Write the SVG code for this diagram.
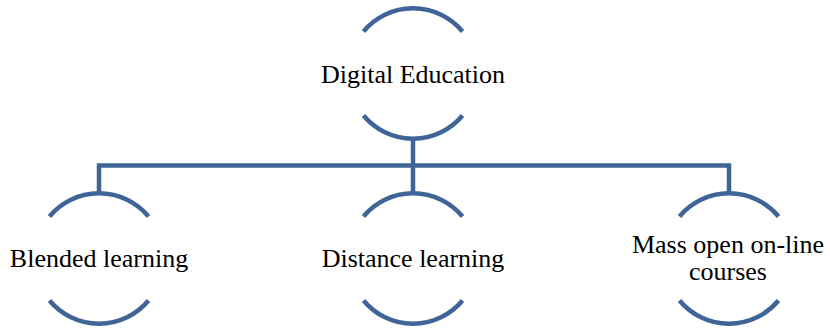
<svg xmlns="http://www.w3.org/2000/svg" width="830" height="328" viewBox="0 0 830 328">
<style>
.arc{fill:none;stroke:#3F6497;stroke-width:4.5}
.conn{fill:none;stroke:#3F6497;stroke-width:4.5;stroke-linejoin:miter}
.lbl{font-family:"Liberation Serif","Times New Roman",serif;font-size:26px;fill:#000;text-anchor:middle}
</style>
<rect width="830" height="328" fill="#fff"/>
<g id="connectors">
<path class="conn" d="M99 194 V165.5 H729 V194"/>
<path class="conn" d="M413 137.5 V194"/>
</g>
<g id="node-digital-education">
<path class="arc" d="M363.5 31.5 A64.5 64.5 0 0 1 462.5 31.5"/>
<path class="arc" d="M363.5 115.5 A64.5 64.5 0 0 0 462.5 115.5"/>
<text class="lbl" x="413" y="83">Digital Education</text>
</g>
<g id="node-blended">
<path class="arc" d="M49.5 216.5 A64.5 64.5 0 0 1 148.5 216.5"/>
<path class="arc" d="M49.5 300.5 A64.5 64.5 0 0 0 148.5 300.5"/>
<text class="lbl" x="99" y="267">Blended learning</text>
</g>
<g id="node-distance">
<path class="arc" d="M363.5 216.5 A64.5 64.5 0 0 1 462.5 216.5"/>
<path class="arc" d="M363.5 300.5 A64.5 64.5 0 0 0 462.5 300.5"/>
<text class="lbl" x="413" y="267">Distance learning</text>
</g>
<g id="node-mooc">
<path class="arc" d="M679.5 216.5 A64.5 64.5 0 0 1 778.5 216.5"/>
<path class="arc" d="M679.5 300.5 A64.5 64.5 0 0 0 778.5 300.5"/>
<text class="lbl" x="728" y="253">Mass open on-line</text>
<text class="lbl" x="728" y="280">courses</text>
</g>
</svg>
